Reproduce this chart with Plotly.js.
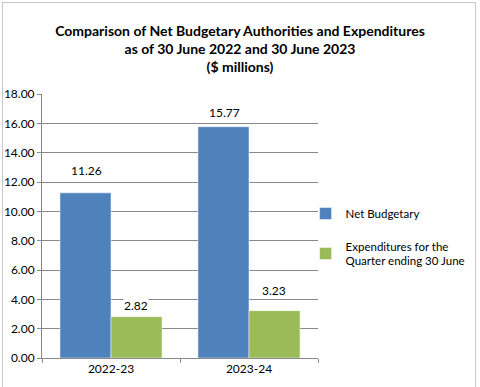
<!DOCTYPE html>
<html><head><meta charset="utf-8">
<script src="https://cdn.plot.ly/plotly-3.0.1.min.js"></script>
<style>body{margin:0;padding:0;background:#fff}#frame{position:absolute;left:2px;top:2px;width:472px;height:390px;border:1px solid #c8c8c8;pointer-events:none}</style>
</head><body>
<div id="chart" style="width:480px;height:387px;"></div>
<div id="frame"></div>
<script>
const categories = ["2022-23", "2023-24"];
const netBudgetary = [11.26, 15.77];
const expenditures = [2.82, 3.23];
const seriesNames = ["Net Budgetary", "Expenditures for the<br>Quarter ending 30 June"];
const colors = ["#4f81bd", "#9bbb59"];
// vertical pixel offsets of the value labels above their bars (as placed in the original)
const labelShift = [[22, 14], [11, 20]];

const fam = "Lato, Open Sans, Liberation Sans, sans-serif";
const font = {family: fam, size: 12, color: "#000"};
const traces = [netBudgetary, expenditures].map((vals, i) => ({
  type: "bar", x: categories, y: vals, name: seriesNames[i],
  marker: {color: colors[i], line: {color: "#fff", width: 0.5}},
  offsetgroup: String(i), legendgroup: "g" + i
}));

const annotations = [];
[netBudgetary, expenditures].forEach((vals, i) => {
  vals.forEach((v, j) => {
    annotations.push({
      x: categories[j], y: v, xref: "x", yref: "y", text: v.toFixed(2),
      showarrow: false, yanchor: "middle", yshift: labelShift[i][j],
      xshift: i === 0 ? -25 : 25, font: font, bgcolor: "#fff", borderpad: 0
    });
  });
});

const layout = {
  width: 480, height: 387,
  margin: {l: 42, r: 162, t: 94, b: 29, autoexpand: false},
  paper_bgcolor: "#fff", plot_bgcolor: "#fff",
  title: {text: "<b>Comparison of Net Budgetary Authorities and Expenditures<br>as of 30 June 2022 and 30 June 2023<br>($ millions)</b>",
    font: {family: fam, size: 14, color: "#000"},
    x: 0.5, xanchor: "center", y: 0.908, yanchor: "top"},
  barmode: "group", bargap: 0.26, bargroupgap: 0,
  xaxis: {showline: true, linecolor: "#888", ticks: "outside", tickson: "boundaries", ticklen: 4, tickcolor: "#888",
    tickfont: font, showgrid: false},
  yaxis: {range: [0, 18], dtick: 2, tickformat: ".2f", showgrid: true, gridcolor: "#888", gridwidth: 1,
    showline: true, linecolor: "#888", ticks: "outside", ticklen: 4, tickcolor: "#888", tickfont: font, zeroline: false},
  legend: {x: 0.955, xanchor: "left", y: 0.458, yanchor: "middle", font: {family: fam, size: 11.5, color: "#000"},
    tracegroupgap: 14, itemwidth: 30, bgcolor: "rgba(0,0,0,0)"},
  annotations: annotations,
  showlegend: true
};
Plotly.newPlot("chart", traces, layout, {displayModeBar: false, staticPlot: true});
</script>
</body></html>
